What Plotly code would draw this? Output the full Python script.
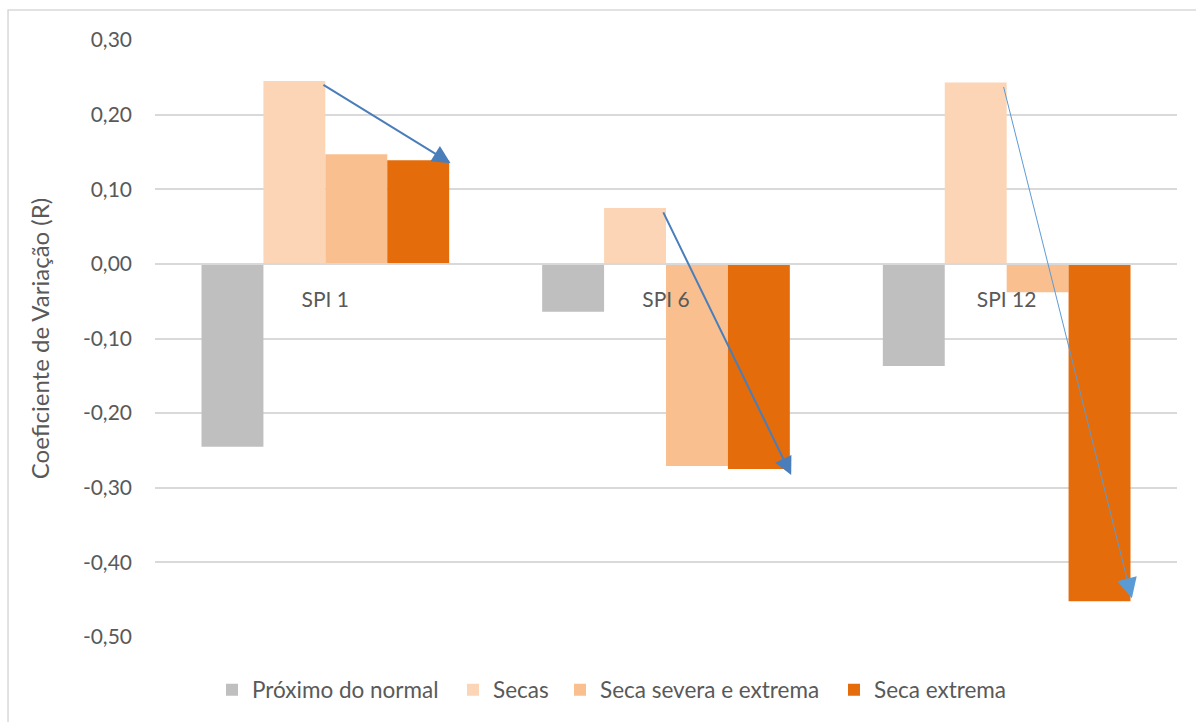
import plotly.graph_objects as go

# Categories and series
categorias = ["SPI 1", "SPI 6", "SPI 12"]
proximo_normal = [-0.245, -0.064, -0.137]
secas = [0.245, 0.075, 0.243]
seca_severa = [0.147, -0.271, -0.038]
seca_extrema = [0.139, -0.275, -0.452]

series = [
    ("Próximo do normal", proximo_normal, "#BFBFBF"),
    ("Secas", secas, "#FBD5B5"),
    ("Seca severa e extrema", seca_severa, "#F9BF8F"),
    ("Seca extrema", seca_extrema, "#E46C0A"),
]

y_ticks = [0.30, 0.20, 0.10, 0.00, -0.10, -0.20, -0.30, -0.40, -0.50]
y_tick_text = ["0,30", "0,20", "0,10", "0,00", "-0,10", "-0,20", "-0,30", "-0,40", "-0,50"]

FONT = "Lato"
TXT = "#595959"

# Plot area in pixels (used to place the legend entries along the bottom)
PLOT_L, PLOT_R = 155, 1177
legend_px = [212, 453, 560, 834]
legend_ids = ["legend", "legend2", "legend3", "legend4"]

fig = go.Figure()
for (nome, valores, cor), lg in zip(series, legend_ids):
    fig.add_trace(go.Bar(
        x=categorias, y=valores, name=nome, legend=lg,
        marker=dict(color=cor, line=dict(width=0)),
    ))

# Trend arrows: from the top of the "Secas" bar to the end of the "Seca extrema" bar
bar_w = (1 - 0.273) / 4
x_secas_edge = -0.01
x_extrema_edge = 2 * bar_w + 0.004
arrow_styles = [("#4A7EBB", 2, 1.8, -0.004), ("#4A7EBB", 2, 1.8, -0.008), ("#5B9BD5", 1, 4, 0.004)]
for i, (cor, lw, size, dy) in enumerate(arrow_styles):
    fig.add_annotation(
        x=i + x_extrema_edge, y=seca_extrema[i] + dy,
        ax=i + x_secas_edge, ay=secas[i] - 0.004,
        xref="x", yref="y", axref="x", ayref="y",
        text="", showarrow=True, arrowhead=2, arrowsize=size,
        arrowwidth=lw, arrowcolor=cor, standoff=0, startstandoff=0,
    )

# Chart frame
fig.add_shape(
    type="rect", xref="paper", yref="paper",
    x0=-0.1438, y0=-0.16, x1=1.03, y1=1.0502,
    line=dict(color="#D9D9D9", width=1.5), fillcolor="rgba(0,0,0,0)",
    layer="below",
)

legend_style = dict(
    orientation="h", yanchor="middle", y=-0.087, xanchor="left",
    font=dict(family=FONT, size=22.5, color=TXT),
    itemsizing="constant", bgcolor="rgba(0,0,0,0)",
)
legends = {}
for lg, px in zip(legend_ids, legend_px):
    legends[lg] = dict(legend_style, x=(px - PLOT_L) / (PLOT_R - PLOT_L))

fig.update_layout(
    width=1196, height=722,
    margin=dict(l=PLOT_L, r=1196 - PLOT_R, t=40, b=84),
    paper_bgcolor="white", plot_bgcolor="white",
    barmode="group", bargap=0.273, bargroupgap=0,
    font=dict(family=FONT, size=21, color=TXT),
    showlegend=True,
    **legends,
    xaxis=dict(
        anchor="free", position=0.625,
        showgrid=False, showline=True, linecolor="#D9D9D9", linewidth=1.5,
        ticks="", ticklabelstandoff=17,
        tickfont=dict(family=FONT, size=21, color=TXT),
    ),
    yaxis=dict(
        range=[-0.5, 0.3], tickvals=y_ticks, ticktext=y_tick_text,
        showgrid=True, gridcolor="#D9D9D9", gridwidth=1.5,
        zeroline=False, showline=False, ticks="", ticklabelstandoff=22,
        tickfont=dict(family=FONT, size=21, color=TXT),
        title=dict(text="Coeficiente de Variação (R)", standoff=26,
                   font=dict(family=FONT, size=24, color=TXT)),
    ),
)

fig.write_html("out.html")
